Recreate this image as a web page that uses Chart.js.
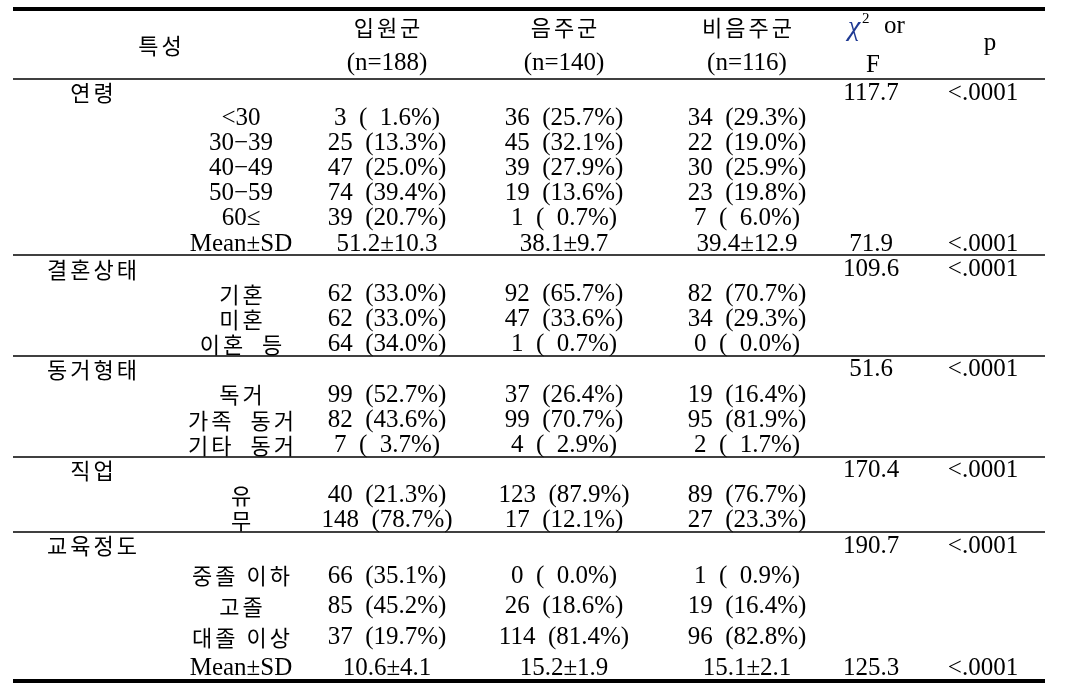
<!DOCTYPE html>
<html>
<head>
<meta charset="utf-8">
<script src="https://cdn.jsdelivr.net/npm/chart.js@4"></script>
<style>
  body { margin: 0; background: #fff; }
  #wrap { width: 1075px; height: 692px; position: relative; }
</style>
</head>
<body>
<div id="wrap"><canvas id="tableChart"></canvas></div>
<script>
// data
const groups = ['입원군', '음주군', '비음주군'];
const groupN = [188, 140, 116];
const sections = ['연령', '결혼상태', '동거형태', '직업', '교육정도'];
const categories = [
  ['<30', '30−39', '40−49', '50−59', '60≤'],
  ['기혼', '미혼', '이혼  등'],
  ['독거', '가족  동거', '기타  동거'],
  ['유', '무'],
  ['중졸 이하', '고졸', '대졸 이상']
];
const inpatientN = [3, 25, 47, 74, 39, 62, 62, 64, 99, 82, 7, 40, 148, 66, 85, 37];
const inpatientPct = [1.6, 13.3, 25.0, 39.4, 20.7, 33.0, 33.0, 34.0, 52.7, 43.6, 3.7, 21.3, 78.7, 35.1, 45.2, 19.7];
const drinkerN = [36, 45, 39, 19, 1, 92, 47, 1, 37, 99, 4, 123, 17, 0, 26, 114];
const drinkerPct = [25.7, 32.1, 27.9, 13.6, 0.7, 65.7, 33.6, 0.7, 26.4, 70.7, 2.9, 87.9, 12.1, 0.0, 18.6, 81.4];
const nonDrinkerN = [34, 22, 30, 23, 7, 82, 34, 0, 19, 95, 2, 89, 27, 1, 19, 96];
const nonDrinkerPct = [29.3, 19.0, 25.9, 19.8, 6.0, 70.7, 29.3, 0.0, 16.4, 81.9, 1.7, 76.7, 23.3, 0.9, 16.4, 82.8];
// Mean±SD rows (age, education), one entry per group
const ageMean = [51.2, 38.1, 39.4];
const ageSD = [10.3, 9.7, 12.9];
const eduMean = [10.6, 15.2, 15.1];
const eduSD = [4.1, 1.9, 2.1];
const sectionStat = [117.7, 109.6, 51.6, 170.4, 190.7];
const sectionP = ['<.0001', '<.0001', '<.0001', '<.0001', '<.0001'];
const meanStat = { 0: 71.9, 4: 125.3 };
const meanP = { 0: '<.0001', 4: '<.0001' };

// layout
const colX = { section: 92, label: 241, g0: 387, g1: 564, g2: 747, stat: 871, p: 983 };
const lineLeft = 13, lineRight = 1045;

const pctText = v => v < 10 ? '(  ' + v.toFixed(1) + '%)' : '(' + v.toFixed(1) + '%)';
const cellText = (n, v) => n + '  ' + pctText(v);

// build rows
const counts = [inpatientN, drinkerN, nonDrinkerN];
const pcts = [inpatientPct, drinkerPct, nonDrinkerPct];
const rows = [];
let k = 0;
sections.forEach((s, si) => {
  rows.push({ section: s, stat: sectionStat[si].toFixed(1), p: sectionP[si] });
  categories[si].forEach(c => {
    const r = { label: c };
    for (let g = 0; g < 3; g++) r['g' + g] = cellText(counts[g][k], pcts[g][k]);
    rows.push(r);
    k++;
  });
  if (si === 0 || si === 4) {
    const m = si === 0 ? ageMean : eduMean, sd = si === 0 ? ageSD : eduSD;
    const r = { label: 'Mean±SD', stat: meanStat[si].toFixed(1), p: meanP[si] };
    for (let g = 0; g < 3; g++) r['g' + g] = m[g].toFixed(1) + '±' + sd[g].toFixed(1);
    rows.push(r);
  }
});

// row positions (education block rows are spaced a little wider)
const rowY = rows.map((r, i) => i <= 18 ? i : 19.19 + (i - 19) * 1.23);
const rules = [
  { y: -3.3, w: 4 }, { y: -0.52, w: 1.5 }, { y: 6.48, w: 1.5 }, { y: 10.49, w: 1.5 },
  { y: 14.5, w: 1.5 }, { y: 17.48, w: 1.5 }, { y: 23.4, w: 4 }
];

const keys = ['section', 'label', 'g0', 'g1', 'g2', 'stat', 'p'];
const datasets = keys.map(key => ({
  label: key,
  data: rows.map((r, i) => ({ x: colX[key], y: rowY[i], text: r[key] || '' })),
  pointRadius: 0
}));
// header cells
const header = [
  { x: 160, y: -1.87, text: '특성' },
  { x: colX.g0, y: -2.6, text: groups[0] }, { x: colX.g0, y: -1.17, text: '(n=' + groupN[0] + ')' },
  { x: colX.g1, y: -2.6, text: groups[1] }, { x: colX.g1, y: -1.17, text: '(n=' + groupN[1] + ')' },
  { x: colX.g2, y: -2.6, text: groups[2] }, { x: colX.g2, y: -1.17, text: '(n=' + groupN[2] + ')' },
  { x: colX.stat + 2, y: -1.08, text: 'F' },
  { x: 990, y: -1.95, text: 'p' },
  { x: colX.stat, y: -2.6, text: 'chi' }
];
datasets.push({ label: 'header', data: header, pointRadius: 0 });

const hangul = /[가-힣]/;
const tablePlugin = {
  id: 'tableText',
  afterDatasetsDraw(chart) {
    const ctx = chart.ctx;
    const xs = chart.scales.x, ys = chart.scales.y;
    ctx.save();
    ctx.strokeStyle = '#000';
    rules.forEach(r => {
      const y = ys.getPixelForValue(r.y);
      ctx.lineWidth = r.w;
      ctx.beginPath();
      ctx.moveTo(xs.getPixelForValue(lineLeft), y);
      ctx.lineTo(xs.getPixelForValue(lineRight), y);
      ctx.stroke();
    });
    ctx.fillStyle = '#000';
    ctx.textAlign = 'center';
    ctx.textBaseline = 'middle';
    chart.data.datasets.forEach((ds, d) => {
      const meta = chart.getDatasetMeta(d);
      meta.data.forEach((pt, i) => {
        const t = ds.data[i].text;
        if (!t) return;
        if (t === 'chi') {
          ctx.textAlign = 'left';
          ctx.fillStyle = '#1f3a93';
          ctx.font = 'italic 28px "Liberation Serif"';
          ctx.fillText('χ', pt.x - 23, pt.y + 1);
          ctx.fillStyle = '#000';
          ctx.font = '15px "Liberation Serif"';
          ctx.fillText('2', pt.x - 9, pt.y - 7);
          ctx.font = '25px "Liberation Serif"';
          ctx.fillText('or', pt.x + 13, pt.y);
          ctx.textAlign = 'center';
          return;
        }
        if (hangul.test(t)) {
          ctx.font = '22px "Noto Sans CJK KR"';
          ctx.letterSpacing = '3px';
          ctx.fillText(t, pt.x + 1.5, pt.y + 1);
          ctx.letterSpacing = '0px';
        } else {
          ctx.font = '25px "Liberation Serif"';
          ctx.fillText(t, pt.x, pt.y + 1);
        }
      });
    });
    ctx.restore();
  }
};

const config = {
  type: 'scatter',
  data: { datasets },
  options: {
    responsive: true,
    maintainAspectRatio: false,
    animation: false,
    layout: { padding: 0 },
    plugins: { legend: { display: false }, tooltip: { enabled: false } },
    scales: {
      x: { type: 'linear', display: false, min: 0, max: 1075 },
      y: { type: 'linear', display: false, min: -3.655, max: 23.84, reverse: true }
    }
  },
  plugins: [tablePlugin]
};

const tableChart = new Chart(document.getElementById('tableChart'), config);
</script>
</body>
</html>
